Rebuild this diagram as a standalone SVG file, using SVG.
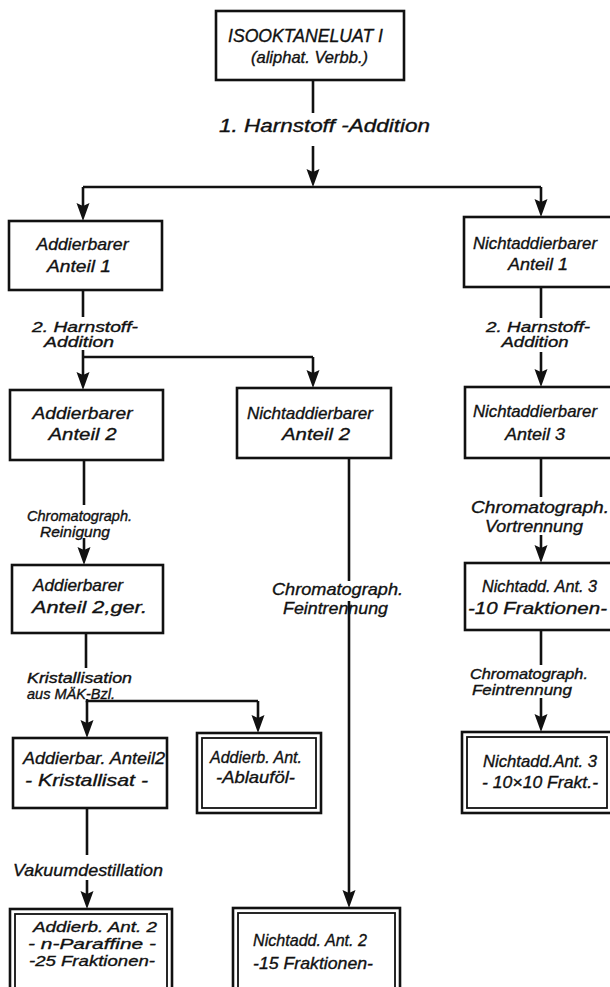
<svg xmlns="http://www.w3.org/2000/svg" width="610" height="987" viewBox="0 0 610 987">
<style>
.bx{fill:#fff;stroke:#111;stroke-width:2.6}
.in{fill:none;stroke:#111;stroke-width:1.8}
.ln{fill:none;stroke:#111;stroke-width:2.6}
.ar{fill:none;stroke:#111;stroke-width:2.6;marker-end:url(#ah)}
text{font-family:"Liberation Sans","Noto Sans",sans-serif;font-style:italic;fill:#111;stroke:#111;stroke-width:0.35;text-anchor:middle}
.t{font-size:17px}
.l{font-size:14px}
.m{font-size:17px}
</style>
<defs>
<marker id="ah" viewBox="0 -7 18 14" refX="8" refY="0" markerWidth="18" markerHeight="14" markerUnits="userSpaceOnUse" orient="auto">
<path d="M0,-6.5 L18,0 L0,6.5 L3,0 Z" fill="#111"/>
</marker>
</defs>
<rect width="610" height="987" fill="#fff"/>
<g id="connectors">
<path class="ln" d="M313,80 V113"/>
<path class="ar" d="M313,146 V177"/>
<path class="ln" d="M83,187 H541"/>
<path class="ar" d="M83,187 V211"/>
<path class="ar" d="M541,187 V207"/>
<path class="ln" d="M83,290 V317"/>
<path class="ar" d="M83,350 V380"/>
<path class="ln" d="M83,357 H313"/>
<path class="ar" d="M313,357 V378"/>
<path class="ln" d="M541,287 V318"/>
<path class="ar" d="M541,352 V377"/>
<path class="ln" d="M84,460 V505"/>
<path class="ar" d="M84,538 V555"/>
<path class="ln" d="M86,633 V668"/>
<path class="ln" d="M87,699 V701 H258"/>
<path class="ar" d="M87,701 V728"/>
<path class="ar" d="M258,701 V723"/>
<path class="ln" d="M87,808 V855"/>
<path class="ar" d="M87,880 V899"/>
<path class="ln" d="M349,458 V581"/>
<path class="ar" d="M349,601 V898"/>
<path class="ln" d="M541,458 V497"/>
<path class="ar" d="M541,535 V553"/>
<path class="ln" d="M541,630 V665"/>
<path class="ar" d="M541,698 V722"/>
</g>
<g id="labels">
<text style="font-size:18px" x="324.5" y="132" textLength="211" lengthAdjust="spacingAndGlyphs">1. Harnstoff -Addition</text>
<text class="l" x="85" y="331.5" textLength="106" lengthAdjust="spacingAndGlyphs">2. Harnstoff-</text>
<text class="l" x="79" y="347" textLength="70" lengthAdjust="spacingAndGlyphs">Addition</text>
<text class="l" x="538" y="331.5" textLength="104" lengthAdjust="spacingAndGlyphs">2. Harnstoff-</text>
<text class="l" x="535" y="347" textLength="67" lengthAdjust="spacingAndGlyphs">Addition</text>
<text class="l" x="79.5" y="521" textLength="105" lengthAdjust="spacingAndGlyphs">Chromatograph.</text>
<text class="l" x="75" y="536.5" textLength="70" lengthAdjust="spacingAndGlyphs">Reinigung</text>
<text class="l" x="79.5" y="683" textLength="105" lengthAdjust="spacingAndGlyphs">Kristallisation</text>
<text class="l" x="71" y="698.5" textLength="88" lengthAdjust="spacingAndGlyphs">aus MÄK-Bzl.</text>
<text class="t" x="88" y="876" textLength="150" lengthAdjust="spacingAndGlyphs">Vakuumdestillation</text>
<text class="m" x="337.5" y="595" textLength="131" lengthAdjust="spacingAndGlyphs">Chromatograph.</text>
<text class="m" x="335.5" y="614" textLength="105" lengthAdjust="spacingAndGlyphs">Feintrennung</text>
<text class="m" x="540" y="513" textLength="138" lengthAdjust="spacingAndGlyphs">Chromatograph.</text>
<text class="m" x="534" y="532" textLength="98" lengthAdjust="spacingAndGlyphs">Vortrennung</text>
<text class="l" x="529" y="679" textLength="118" lengthAdjust="spacingAndGlyphs">Chromatograph.</text>
<text class="l" x="522" y="694.5" textLength="100" lengthAdjust="spacingAndGlyphs">Feintrennung</text>
</g>
<g id="n_top">
<rect class="bx" x="216" y="11" width="188" height="69"/>
<text style="font-size:18px" x="305.5" y="42" textLength="155" lengthAdjust="spacingAndGlyphs">ISOOKTANELUAT  I</text>
<text class="t" x="309.5" y="63" textLength="117" lengthAdjust="spacingAndGlyphs">(aliphat. Verbb.)</text>
</g>
<g id="n_add1">
<rect class="bx" x="9" y="221" width="153" height="69"/>
<text class="t" x="82.5" y="250" textLength="92" lengthAdjust="spacingAndGlyphs">Addierbarer</text>
<text class="t" x="79" y="272" textLength="64" lengthAdjust="spacingAndGlyphs">Anteil 1</text>
</g>
<g id="n_nadd1">
<rect class="bx" x="464" y="217" width="152" height="70"/>
<text class="t" x="535" y="249" textLength="124" lengthAdjust="spacingAndGlyphs">Nichtaddierbarer</text>
<text class="t" x="538" y="270" textLength="60" lengthAdjust="spacingAndGlyphs">Anteil 1</text>
</g>
<g id="n_add2">
<rect class="bx" x="10" y="390" width="153" height="70"/>
<text class="t" x="82.5" y="419" textLength="100" lengthAdjust="spacingAndGlyphs">Addierbarer</text>
<text class="t" x="82.5" y="440" textLength="68" lengthAdjust="spacingAndGlyphs">Anteil 2</text>
</g>
<g id="n_nadd2">
<rect class="bx" x="237" y="388" width="154" height="70"/>
<text class="t" x="310" y="419" textLength="126" lengthAdjust="spacingAndGlyphs">Nichtaddierbarer</text>
<text class="t" x="316" y="440" textLength="68" lengthAdjust="spacingAndGlyphs">Anteil 2</text>
</g>
<g id="n_nadd3">
<rect class="bx" x="465" y="387" width="151" height="71"/>
<text class="t" x="535" y="417" textLength="124" lengthAdjust="spacingAndGlyphs">Nichtaddierbarer</text>
<text class="t" x="535" y="440" textLength="60" lengthAdjust="spacingAndGlyphs">Anteil 3</text>
</g>
<g id="n_add2ger">
<rect class="bx" x="12" y="565" width="151" height="68"/>
<text class="t" x="78" y="591" textLength="90" lengthAdjust="spacingAndGlyphs">Addierbarer</text>
<text class="t" x="89.5" y="613" textLength="115" lengthAdjust="spacingAndGlyphs">Anteil 2,ger.</text>
</g>
<g id="n_nadd3_10">
<rect class="bx" x="465" y="563" width="151" height="67"/>
<text class="t" x="539.5" y="592" textLength="115" lengthAdjust="spacingAndGlyphs">Nichtadd. Ant. 3</text>
<text class="t" x="537.5" y="614" textLength="139" lengthAdjust="spacingAndGlyphs">-10 Fraktionen-</text>
</g>
<g id="n_kristallisat">
<rect class="bx" x="13" y="738" width="154" height="70"/>
<text class="t" x="94" y="764" textLength="142" lengthAdjust="spacingAndGlyphs">Addierbar. Anteil2</text>
<text class="t" x="86.5" y="786" textLength="123" lengthAdjust="spacingAndGlyphs">- Kristallisat -</text>
</g>
<g id="n_ablaufoel">
<rect class="bx" x="197" y="733" width="124" height="80"/>
<rect class="in" x="202" y="738" width="114" height="70"/>
<text class="t" x="256" y="763" textLength="92" lengthAdjust="spacingAndGlyphs">Addierb. Ant.</text>
<text class="t" x="255.5" y="783" textLength="79" lengthAdjust="spacingAndGlyphs">-Ablauföl-</text>
</g>
<g id="n_nadd3_10x10">
<rect class="bx" x="462" y="732" width="154" height="81"/>
<rect class="in" x="467" y="737" width="140" height="71"/>
<text class="t" x="540" y="767" textLength="114" lengthAdjust="spacingAndGlyphs">Nichtadd.Ant. 3</text>
<text class="t" x="540" y="788" textLength="116" lengthAdjust="spacingAndGlyphs">- 10×10 Frakt.-</text>
</g>
<g id="n_paraffine">
<rect class="bx" x="10" y="909" width="162" height="86"/>
<rect class="in" x="15" y="914" width="152" height="76"/>
<text style="font-size:15px" x="95" y="932" textLength="124" lengthAdjust="spacingAndGlyphs">Addierb. Ant. 2</text>
<text style="font-size:15px" x="92" y="949" textLength="128" lengthAdjust="spacingAndGlyphs">- n-Paraffine -</text>
<text style="font-size:15px" x="92" y="966" textLength="126" lengthAdjust="spacingAndGlyphs">-25 Fraktionen-</text>
</g>
<g id="n_nadd2_15">
<rect class="bx" x="233" y="908" width="167" height="86"/>
<rect class="in" x="238" y="913" width="157" height="76"/>
<text class="t" x="310" y="946" textLength="114" lengthAdjust="spacingAndGlyphs">Nichtadd. Ant. 2</text>
<text class="t" x="313" y="969" textLength="120" lengthAdjust="spacingAndGlyphs">-15 Fraktionen-</text>
</g>
</svg>
